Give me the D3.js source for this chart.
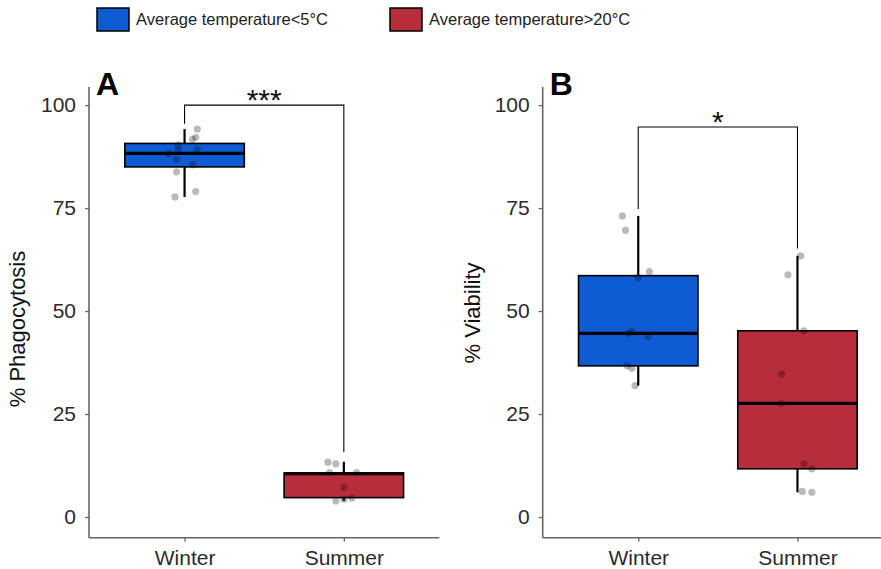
<!DOCTYPE html>
<html>
<head>
<meta charset="utf-8">
<script src="https://cdn.jsdelivr.net/npm/d3@7"></script>
<style>
  body { margin: 0; background: #fff; }
  svg { font-family: "Liberation Sans", Arial, sans-serif; }
</style>
</head>
<body>
<div id="chart"></div>
<script>
// categories and legend
var groups = ["Winter", "Summer"];
var legendLabels = ["Average temperature<5\u00B0C", "Average temperature>20\u00B0C"];
var colors = ["#0d5cd4", "#b82d3b"];
var yTicks = [0, 25, 50, 75, 100];

// box stats [lo, q1, median, q3, hi] per group
var phagoBox = [[77.7, 85.0, 88.3, 90.7, 94.2], [3.9, 4.7, 10.5, 10.7, 13.4]];
var viabBox = [[31.9, 36.7, 44.6, 58.6, 73.1], [6.0, 11.7, 27.6, 45.2, 63.4]];

// raw points (value) and horizontal jitter (category units)
var phagoWinter = [94.2, 92.2, 91.7, 90.3, 88.9, 89.2, 88.2, 86.8, 85.5, 83.8, 79.0, 77.7];
var phagoWinterJit = [0.08, 0.07, 0.05, -0.04, -0.04, 0.08, -0.10, -0.05, 0.05, -0.05, 0.07, -0.06];
var phagoSummer = [13.3, 12.9, 10.8, 10.8, 7.2, 3.9, 4.3, 4.6];
var phagoSummerJit = [-0.10, -0.05, -0.09, 0.08, 0.00, -0.05, 0.00, 0.05];
var viabWinter = [73.1, 69.6, 59.6, 58.1, 44.6, 45.0, 43.8, 36.7, 36.1, 31.9];
var viabWinterJit = [-0.10, -0.08, 0.07, 0.00, -0.06, -0.04, 0.06, -0.07, -0.04, -0.02];
var viabSummer = [63.4, 58.8, 45.2, 34.7, 27.6, 12.9, 11.7, 6.2, 6.0];
var viabSummerJit = [0.02, -0.06, 0.04, -0.10, -0.10, 0.04, 0.09, 0.03, 0.09];

// significance brackets: [bar y, left leg end, right leg end]
var phagoBracket = [100, 95.5, 15.8];
var viabBracket = [94.7, 74.8, 65.2];

var width = 881, height = 569;
var svg = d3.select("#chart").append("svg")
    .attr("width", width)
    .attr("height", height);

// legend
legendLabels.forEach(function(lab, i) {
    var lx = [97, 390][i];
    svg.append("rect")
        .attr("x", lx).attr("y", 8)
        .attr("width", 32).attr("height", 23)
        .attr("fill", colors[i])
        .attr("stroke", "#000").attr("stroke-width", 1.5);
    svg.append("text")
        .attr("x", lx + 39).attr("y", 25)
        .attr("font-size", 16.5)
        .attr("fill", "#222")
        .text(lab);
});

function drawPanel(opt) {
    var x = d3.scalePoint().domain(groups).range([opt.left, opt.right]).padding(0.6);
    var y = d3.scaleLinear().domain([-5.03, 104.4]).range([537.7, 87]);
    var step = x.step();
    var bw = step * 0.75;

    var g = svg.append("g");

    // boxes
    opt.box.forEach(function(b, i) {
        var cx = x(groups[i]);
        g.append("line")
            .attr("x1", cx).attr("x2", cx)
            .attr("y1", y(b[3])).attr("y2", y(b[4]))
            .attr("stroke", "#000").attr("stroke-width", 2.2);
        g.append("line")
            .attr("x1", cx).attr("x2", cx)
            .attr("y1", y(b[1])).attr("y2", y(b[0]))
            .attr("stroke", "#000").attr("stroke-width", 2.2);
        g.append("rect")
            .attr("x", cx - bw / 2).attr("width", bw)
            .attr("y", y(b[3])).attr("height", y(b[1]) - y(b[3]))
            .attr("fill", colors[i])
            .attr("stroke", "#000").attr("stroke-width", 1.6);
        g.append("line")
            .attr("x1", cx - bw / 2).attr("x2", cx + bw / 2)
            .attr("y1", y(b[2])).attr("y2", y(b[2]))
            .attr("stroke", "#000").attr("stroke-width", 3.2);
    });

    // jittered points
    opt.points.forEach(function(p, i) {
        var cx = x(groups[i]);
        g.selectAll(null)
            .data(p.vals)
            .enter().append("circle")
            .attr("cx", function(d, j) { return cx + p.jit[j] * step; })
            .attr("cy", function(d) { return y(d); })
            .attr("r", 3.6)
            .attr("fill", "#000")
            .attr("fill-opacity", 0.27);
    });

    // bracket
    var br = opt.bracket;
    var x0 = x(groups[0]), x1 = x(groups[1]);
    g.append("path")
        .attr("d", "M" + x0 + "," + y(br[1]) + "V" + y(br[0]) + "H" + x1 + "V" + y(br[2]))
        .attr("fill", "none")
        .attr("stroke", "#000").attr("stroke-width", 1.1);
    g.append("text")
        .attr("x", (x0 + x1) / 2).attr("y", y(br[0]) + 5)
        .attr("text-anchor", "middle")
        .attr("font-size", 30)
        .attr("fill", "#111")
        .text(opt.star);

    // axes
    var xAxis = g.append("g")
        .attr("transform", "translate(0,537.7)")
        .call(d3.axisBottom(x).tickSize(4).tickPadding(8));
    xAxis.select(".domain").attr("d", "M" + opt.left + ",0H" + opt.right);
    var yAxis = g.append("g")
        .attr("transform", "translate(" + opt.left + ",0)")
        .call(d3.axisLeft(y).tickValues(yTicks).tickSize(4).tickPadding(9));
    yAxis.select(".domain").attr("d", "M0,87V537.7");

    [xAxis, yAxis].forEach(function(a) {
        a.select(".domain").attr("stroke", "#666").attr("stroke-width", 1.6);
        a.selectAll(".tick line").attr("stroke", "#666").attr("stroke-width", 1.3);
        a.selectAll(".tick text")
            .attr("font-family", "Liberation Sans, Arial, sans-serif")
            .attr("font-size", 21)
            .attr("fill", "#2b2b2b");
    });

    // y title
    svg.append("text")
        .attr("transform", "translate(" + opt.titleX + "," + opt.titleY + ") rotate(-90)")
        .attr("text-anchor", "middle")
        .attr("font-size", 22)
        .attr("fill", "#111")
        .text(opt.title);

    // panel letter
    svg.append("text")
        .attr("x", opt.left + 7).attr("y", 95)
        .attr("font-size", 32)
        .attr("font-weight", "bold")
        .attr("fill", "#000")
        .text(opt.letter);
}

drawPanel({
    left: 89, right: 439.4,
    box: phagoBox,
    points: [{vals: phagoWinter, jit: phagoWinterJit}, {vals: phagoSummer, jit: phagoSummerJit}],
    bracket: phagoBracket, star: "***",
    title: "% Phagocytosis", titleX: 25, titleY: 329,
    letter: "A"
});

drawPanel({
    left: 542.7, right: 893,
    box: viabBox,
    points: [{vals: viabWinter, jit: viabWinterJit}, {vals: viabSummer, jit: viabSummerJit}],
    bracket: viabBracket, star: "*",
    title: "% Viability", titleX: 480, titleY: 313,
    letter: "B"
});
</script>
</body>
</html>
